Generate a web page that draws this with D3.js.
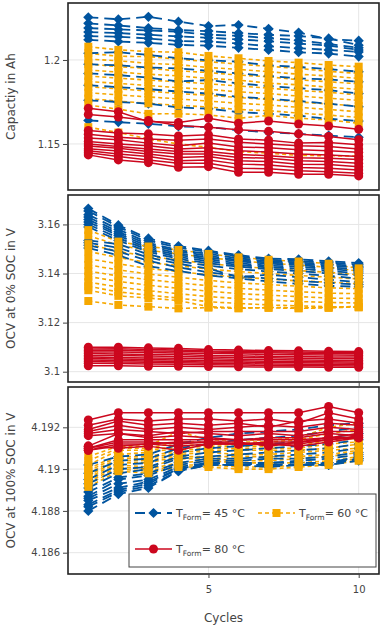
<!DOCTYPE html>
<html>
<head>
<meta charset="utf-8">
<script src="https://cdn.jsdelivr.net/npm/d3@7"></script>
<style>
  body { margin: 0; background: #fff; }
  text { font-family: "DejaVu Sans", Verdana, sans-serif; fill: #444; }
</style>
</head>
<body>
<div class="d3_canvas"></div>
<script>
var width = 383, height = 628;

var cycles = [1, 2, 3, 4, 5, 6, 7, 8, 9, 10];

// capacity in Ah, one row per cell
var capacity45 = [
  [1.2254, 1.2242, 1.2257, 1.2228, 1.2202, 1.2208, 1.2185, 1.2163, 1.2123, 1.2115],
  [1.2218, 1.2205, 1.2190, 1.2178, 1.2172, 1.2160, 1.2150, 1.2142, 1.2128, 1.2088],
  [1.2190, 1.2182, 1.2176, 1.2168, 1.2150, 1.2144, 1.2130, 1.2118, 1.2095, 1.2072],
  [1.2166, 1.2160, 1.2150, 1.2140, 1.2132, 1.2122, 1.2112, 1.2098, 1.2085, 1.2060],
  [1.2142, 1.2138, 1.2128, 1.2112, 1.2110, 1.2098, 1.2082, 1.2070, 1.2060, 1.2048],
  [1.2120, 1.2110, 1.2102, 1.2090, 1.2085, 1.2072, 1.2060, 1.2046, 1.2038, 1.2020],
  [1.2040, 1.2046, 1.2030, 1.2010, 1.1998, 1.1990, 1.1968, 1.1958, 1.1946, 1.1930],
  [1.1975, 1.1968, 1.1955, 1.1950, 1.1935, 1.1920, 1.1905, 1.1890, 1.1885, 1.1870],
  [1.1920, 1.1910, 1.1895, 1.1872, 1.1880, 1.1860, 1.1845, 1.1832, 1.1820, 1.1800],
  [1.1850, 1.1838, 1.1826, 1.1812, 1.1800, 1.1780, 1.1770, 1.1755, 1.1740, 1.1722],
  [1.1760, 1.1750, 1.1740, 1.1718, 1.1710, 1.1690, 1.1680, 1.1668, 1.1650, 1.1636],
  [1.1640, 1.1630, 1.1620, 1.1605, 1.1600, 1.1582, 1.1570, 1.1560, 1.1550, 1.1540]
];
var capacity60 = [
  [1.2079, 1.2060, 1.2050, 1.2046, 1.2024, 1.2010, 1.1994, 1.1984, 1.1970, 1.1960],
  [1.2040, 1.2022, 1.2020, 1.2005, 1.1990, 1.1975, 1.1962, 1.1950, 1.1932, 1.1920],
  [1.2005, 1.1995, 1.1980, 1.1972, 1.1955, 1.1944, 1.1930, 1.1915, 1.1905, 1.1890],
  [1.1975, 1.1960, 1.1950, 1.1935, 1.1925, 1.1910, 1.1900, 1.1882, 1.1870, 1.1858],
  [1.1940, 1.1928, 1.1915, 1.1905, 1.1890, 1.1880, 1.1862, 1.1852, 1.1838, 1.1825],
  [1.1905, 1.1892, 1.1880, 1.1870, 1.1858, 1.1845, 1.1832, 1.1818, 1.1808, 1.1792],
  [1.1872, 1.1860, 1.1848, 1.1835, 1.1825, 1.1810, 1.1800, 1.1785, 1.1772, 1.1760],
  [1.1840, 1.1828, 1.1815, 1.1800, 1.1790, 1.1776, 1.1765, 1.1750, 1.1738, 1.1725],
  [1.1805, 1.1792, 1.1780, 1.1768, 1.1755, 1.1742, 1.1732, 1.1718, 1.1705, 1.1692],
  [1.1770, 1.1755, 1.1742, 1.1730, 1.1720, 1.1705, 1.1698, 1.1684, 1.1672, 1.1658],
  [1.1732, 1.1707, 1.1679, 1.1680, 1.1673, 1.1653, 1.1670, 1.1653, 1.1643, 1.1623],
  [1.1600, 1.1568, 1.1530, 1.1500, 1.1480, 1.1455, 1.1445, 1.1432, 1.1430, 1.1428]
];
var capacity80 = [
  [1.1712, 1.1692, 1.1633, 1.1628, 1.1653, 1.1623, 1.1637, 1.1619, 1.1607, 1.1587],
  [1.1675, 1.1660, 1.1640, 1.1610, 1.1600, 1.1585, 1.1575, 1.1560, 1.1545, 1.1525],
  [1.1580, 1.1565, 1.1560, 1.1548, 1.1555, 1.1530, 1.1522, 1.1505, 1.1508, 1.1495],
  [1.1558, 1.1540, 1.1530, 1.1522, 1.1530, 1.1510, 1.1500, 1.1490, 1.1485, 1.1470],
  [1.1535, 1.1525, 1.1505, 1.1490, 1.1505, 1.1482, 1.1478, 1.1465, 1.1460, 1.1450],
  [1.1515, 1.1500, 1.1490, 1.1470, 1.1478, 1.1460, 1.1452, 1.1440, 1.1435, 1.1425],
  [1.1500, 1.1485, 1.1470, 1.1455, 1.1455, 1.1438, 1.1430, 1.1418, 1.1415, 1.1408],
  [1.1488, 1.1475, 1.1455, 1.1440, 1.1440, 1.1420, 1.1415, 1.1400, 1.1395, 1.1385],
  [1.1472, 1.1458, 1.1440, 1.1420, 1.1425, 1.1400, 1.1395, 1.1380, 1.1378, 1.1365],
  [1.1460, 1.1440, 1.1425, 1.1400, 1.1405, 1.1380, 1.1375, 1.1360, 1.1355, 1.1345],
  [1.1448, 1.1425, 1.1405, 1.1385, 1.1385, 1.1355, 1.1352, 1.1340, 1.1335, 1.1325],
  [1.1435, 1.1405, 1.1389, 1.1361, 1.1365, 1.1331, 1.1331, 1.1320, 1.1320, 1.1310]
];

// OCV at 0% SOC in V
var ocv0_45 = [
  [3.1665, 3.1597, 3.1543, 3.1512, 3.1493, 3.1475, 3.1461, 3.1458, 3.1450, 3.1443],
  [3.1655, 3.1590, 3.1535, 3.1505, 3.1488, 3.1470, 3.1456, 3.1450, 3.1445, 3.1436],
  [3.1640, 3.1580, 3.1525, 3.1495, 3.1480, 3.1462, 3.1450, 3.1445, 3.1438, 3.1430],
  [3.1630, 3.1570, 3.1518, 3.1490, 3.1472, 3.1455, 3.1445, 3.1440, 3.1432, 3.1425],
  [3.1620, 3.1562, 3.1510, 3.1482, 3.1465, 3.1450, 3.1440, 3.1435, 3.1425, 3.1418],
  [3.1610, 3.1555, 3.1502, 3.1475, 3.1458, 3.1442, 3.1432, 3.1428, 3.1418, 3.1410],
  [3.1600, 3.1545, 3.1495, 3.1468, 3.1450, 3.1435, 3.1425, 3.1420, 3.1410, 3.1402],
  [3.1590, 3.1535, 3.1488, 3.1460, 3.1442, 3.1428, 3.1418, 3.1410, 3.1400, 3.1392],
  [3.1535, 3.1520, 3.1478, 3.1450, 3.1432, 3.1418, 3.1408, 3.1400, 3.1390, 3.1380],
  [3.1525, 3.1505, 3.1465, 3.1440, 3.1420, 3.1385, 3.1395, 3.1385, 3.1375, 3.1365],
  [3.1515, 3.1490, 3.1452, 3.1425, 3.1405, 3.1390, 3.1380, 3.1370, 3.1362, 3.1355],
  [3.1504, 3.1475, 3.1430, 3.1410, 3.1392, 3.1380, 3.1368, 3.1358, 3.1350, 3.1346]
];
var ocv0_60 = [
  [3.1577, 3.1530, 3.1510, 3.1496, 3.1480, 3.1466, 3.1456, 3.1449, 3.1440, 3.1421],
  [3.1555, 3.1515, 3.1495, 3.1480, 3.1465, 3.1452, 3.1442, 3.1435, 3.1425, 3.1410],
  [3.1520, 3.1490, 3.1470, 3.1455, 3.1440, 3.1430, 3.1420, 3.1412, 3.1405, 3.1395],
  [3.1490, 3.1465, 3.1445, 3.1432, 3.1418, 3.1408, 3.1400, 3.1392, 3.1385, 3.1378],
  [3.1460, 3.1440, 3.1420, 3.1408, 3.1395, 3.1385, 3.1378, 3.1370, 3.1365, 3.1358],
  [3.1435, 3.1415, 3.1398, 3.1385, 3.1372, 3.1362, 3.1355, 3.1348, 3.1342, 3.1338],
  [3.1410, 3.1390, 3.1375, 3.1362, 3.1350, 3.1340, 3.1332, 3.1326, 3.1320, 3.1318],
  [3.1388, 3.1368, 3.1352, 3.1340, 3.1328, 3.1318, 3.1312, 3.1306, 3.1300, 3.1298],
  [3.1365, 3.1345, 3.1330, 3.1318, 3.1306, 3.1298, 3.1292, 3.1286, 3.1282, 3.1280],
  [3.1348, 3.1325, 3.1312, 3.1300, 3.1285, 3.1278, 3.1272, 3.1268, 3.1265, 3.1262],
  [3.1332, 3.1309, 3.1300, 3.1290, 3.1265, 3.1260, 3.1260, 3.1258, 3.1260, 3.1264],
  [3.1288, 3.1272, 3.1265, 3.1258, 3.1261, 3.1258, 3.1262, 3.1260, 3.1262, 3.1266]
];
var ocv0_80 = [
  [3.1100, 3.1100, 3.1097, 3.1095, 3.1090, 3.1088, 3.1086, 3.1085, 3.1083, 3.1082],
  [3.1092, 3.1093, 3.1090, 3.1088, 3.1084, 3.1083, 3.1081, 3.1080, 3.1078, 3.1077],
  [3.1086, 3.1087, 3.1084, 3.1083, 3.1080, 3.1078, 3.1077, 3.1075, 3.1074, 3.1073],
  [3.1080, 3.1080, 3.1078, 3.1076, 3.1074, 3.1073, 3.1070, 3.1069, 3.1068, 3.1067],
  [3.1074, 3.1072, 3.1070, 3.1070, 3.1066, 3.1065, 3.1062, 3.1062, 3.1060, 3.1060],
  [3.1066, 3.1066, 3.1064, 3.1062, 3.1060, 3.1058, 3.1057, 3.1055, 3.1054, 3.1053],
  [3.1060, 3.1058, 3.1056, 3.1055, 3.1053, 3.1051, 3.1050, 3.1048, 3.1047, 3.1046],
  [3.1054, 3.1052, 3.1050, 3.1048, 3.1046, 3.1045, 3.1043, 3.1042, 3.1041, 3.1040],
  [3.1048, 3.1046, 3.1044, 3.1042, 3.1040, 3.1039, 3.1037, 3.1036, 3.1035, 3.1034],
  [3.1042, 3.1040, 3.1038, 3.1036, 3.1034, 3.1033, 3.1031, 3.1030, 3.1029, 3.1028],
  [3.1034, 3.1033, 3.1031, 3.1030, 3.1028, 3.1027, 3.1025, 3.1024, 3.1024, 3.1023],
  [3.1024, 3.1024, 3.1022, 3.1022, 3.1021, 3.1020, 3.1019, 3.1019, 3.1018, 3.1018]
];

// OCV at 100% SOC in V
var ocv100_45 = [
  [4.1902, 4.1906, 4.1907, 4.1912, 4.1915, 4.1917, 4.1918, 4.1919, 4.1921, 4.1922],
  [4.1898, 4.1904, 4.1905, 4.1910, 4.1912, 4.1914, 4.1915, 4.1916, 4.1918, 4.1920],
  [4.1895, 4.1902, 4.1903, 4.1908, 4.1910, 4.1911, 4.1912, 4.1913, 4.1915, 4.1917],
  [4.1893, 4.1900, 4.1901, 4.1906, 4.1908, 4.1909, 4.1910, 4.1911, 4.1912, 4.1914],
  [4.1891, 4.1898, 4.1900, 4.1905, 4.1906, 4.1907, 4.1908, 4.1909, 4.1910, 4.1912],
  [4.1889, 4.1896, 4.1898, 4.1903, 4.1905, 4.1905, 4.1906, 4.1907, 4.1908, 4.1910],
  [4.1887, 4.1895, 4.1897, 4.1902, 4.1904, 4.1904, 4.1905, 4.1905, 4.1906, 4.1908],
  [4.1886, 4.1893, 4.1895, 4.1901, 4.1903, 4.1903, 4.1903, 4.1904, 4.1905, 4.1907],
  [4.1885, 4.1891, 4.1894, 4.1900, 4.1903, 4.1902, 4.1903, 4.1903, 4.1903, 4.1906],
  [4.1883, 4.1890, 4.1893, 4.1900, 4.1902, 4.1902, 4.1902, 4.1902, 4.1903, 4.1905],
  [4.1882, 4.1889, 4.1892, 4.1899, 4.1902, 4.1902, 4.1902, 4.1902, 4.1902, 4.1905],
  [4.1880, 4.1888, 4.1891, 4.1899, 4.1902, 4.1902, 4.1901, 4.1902, 4.1902, 4.1904]
];
var ocv100_60 = [
  [4.1906, 4.1911, 4.1911, 4.1918, 4.1914, 4.1914, 4.1914, 4.1915, 4.1920, 4.1922],
  [4.1904, 4.1910, 4.1910, 4.1913, 4.1913, 4.1913, 4.1913, 4.1914, 4.1917, 4.1919],
  [4.1902, 4.1909, 4.1909, 4.1911, 4.1912, 4.1912, 4.1912, 4.1913, 4.1915, 4.1917],
  [4.1900, 4.1907, 4.1908, 4.1910, 4.1911, 4.1911, 4.1911, 4.1912, 4.1913, 4.1915],
  [4.1899, 4.1906, 4.1906, 4.1909, 4.1910, 4.1910, 4.1910, 4.1910, 4.1912, 4.1913],
  [4.1898, 4.1905, 4.1905, 4.1908, 4.1909, 4.1909, 4.1909, 4.1909, 4.1910, 4.1912],
  [4.1897, 4.1904, 4.1904, 4.1907, 4.1908, 4.1907, 4.1907, 4.1908, 4.1909, 4.1910],
  [4.1896, 4.1903, 4.1903, 4.1906, 4.1906, 4.1906, 4.1906, 4.1906, 4.1907, 4.1909],
  [4.1895, 4.1902, 4.1901, 4.1905, 4.1905, 4.1904, 4.1904, 4.1905, 4.1906, 4.1908],
  [4.1894, 4.1901, 4.1900, 4.1903, 4.1904, 4.1903, 4.1903, 4.1903, 4.1904, 4.1906],
  [4.1893, 4.1900, 4.1899, 4.1902, 4.1902, 4.1901, 4.1901, 4.1902, 4.1903, 4.1905],
  [4.18915, 4.1899, 4.1898, 4.1901, 4.1901, 4.1900, 4.1900, 4.1901, 4.1902, 4.1904]
];
var ocv100_80 = [
  [4.19235, 4.1927, 4.1927, 4.1927, 4.1927, 4.1927, 4.1927, 4.1927, 4.1930, 4.1927],
  [4.1921, 4.1924, 4.1923, 4.1924, 4.1924, 4.1923, 4.1924, 4.1922, 4.1927, 4.1924],
  [4.1919, 4.1923, 4.1921, 4.1922, 4.1921, 4.1922, 4.1920, 4.1923, 4.1924, 4.1922],
  [4.1918, 4.1921, 4.1919, 4.1920, 4.1919, 4.1920, 4.1921, 4.1920, 4.1922, 4.1921],
  [4.1917, 4.1919, 4.1918, 4.1917, 4.1918, 4.1918, 4.1918, 4.1918, 4.1920, 4.1919],
  [4.1916, 4.1917, 4.1916, 4.1918, 4.1917, 4.1916, 4.1917, 4.1916, 4.1918, 4.1918],
  [4.1911, 4.1917, 4.1915, 4.1916, 4.1915, 4.1914, 4.1915, 4.1915, 4.1917, 4.1916],
  [4.1910, 4.1914, 4.1914, 4.1914, 4.1914, 4.1914, 4.1914, 4.1914, 4.1915, 4.1915],
  [4.1909, 4.1912, 4.1912, 4.1913, 4.1913, 4.1912, 4.1913, 4.1913, 4.1914, 4.1916],
  [4.1909, 4.1911, 4.1912, 4.1911, 4.1912, 4.1912, 4.1912, 4.1912, 4.1914, 4.1915],
  [4.1910, 4.1913, 4.1913, 4.1912, 4.1913, 4.1913, 4.1911, 4.1913, 4.1915, 4.1917],
  [4.1911, 4.1910, 4.1911, 4.1909, 4.1912, 4.1912, 4.1912, 4.1911, 4.1913, 4.1915]
];

var xTicks = [5, 10];
var capTicks = [1.15, 1.2], capTickLabels = ["1.15", "1.2"];
var ocv0Ticks = [3.1, 3.12, 3.14, 3.16], ocv0TickLabels = ["3.1", "3.12", "3.14", "3.16"];
var ocv100Ticks = [4.186, 4.188, 4.19, 4.192], ocv100TickLabels = ["4.186", "4.188", "4.19", "4.192"];
var legendLabels = ["45 °C", "60 °C", "80 °C"];

var blue = "#00549F", orange = "#F6A800", red = "#CC071E";

// drawing styles per formation temperature
var groups = [
  {name: "45", color: blue, dash: "10,6", width: 1.8, shape: "diamond"},
  {name: "60", color: orange, dash: "4,3", width: 1.6, shape: "square"},
  {name: "80", color: red, dash: null, width: 1.5, shape: "circle"}
];

// lines: orange under blue; markers: blue under orange; red always on top
var lineOrder = [1, 0, 2], markerOrder = [0, 1, 2];

var left = 68, right = 379;

var panels = [
  {top: 3, bottom: 190, domain: [1.1226, 1.2339], ticks: capTicks, labels: capTickLabels,
   title: "Capactiy in Ah", series: [capacity45, capacity60, capacity80]},
  {top: 195, bottom: 382, domain: [3.0958, 3.1720], ticks: ocv0Ticks, labels: ocv0TickLabels,
   title: "OCV at 0% SOC in V", series: [ocv0_45, ocv0_60, ocv0_80]},
  {top: 387, bottom: 574, domain: [4.18498, 4.19393], ticks: ocv100Ticks, labels: ocv100TickLabels,
   title: "OCV at 100% SOC in V", series: [ocv100_45, ocv100_60, ocv100_80]}
];

var svg = d3.select(".d3_canvas")
  .append("svg")
    .attr("width", width)
    .attr("height", height);

var x = d3.scaleLinear().domain([0.324, 10.676]).range([left, right]);

function markerPath(shape) {
  if (shape == "diamond") return d3.symbol(d3.symbolSquare, 52)();
  if (shape == "square") return d3.symbol(d3.symbolSquare, 64)();
  return d3.symbol(d3.symbolCircle, 64)();
}

function drawMarker(g, shape, color, px, py) {
  g.append("path")
    .attr("d", markerPath(shape))
    .attr("transform", "translate(" + px + "," + py + ")" + (shape == "diamond" ? " rotate(45)" : ""))
    .style("fill", color);
}

panels.forEach(function(p, pi) {
  var y = d3.scaleLinear().domain(p.domain).range([p.bottom, p.top]);
  var g = svg.append("g");

  // grid
  g.selectAll(".vgrid").data(xTicks).enter().append("line")
    .attr("x1", function(d) { return x(d); }).attr("x2", function(d) { return x(d); })
    .attr("y1", p.top).attr("y2", p.bottom)
    .style("stroke", "#e6e6e6").style("stroke-width", 1);
  g.selectAll(".hgrid").data(p.ticks).enter().append("line")
    .attr("x1", left).attr("x2", right)
    .attr("y1", function(d) { return y(d); }).attr("y2", function(d) { return y(d); })
    .style("stroke", "#e6e6e6").style("stroke-width", 1);

  var line = d3.line()
    .x(function(d, i) { return x(cycles[i]); })
    .y(function(d) { return y(d); });

  function drawLines(gi) {
    var grp = groups[gi];
    p.series[gi].forEach(function(vals) {
      g.append("path")
        .attr("d", line(vals))
        .style("fill", "none")
        .style("stroke", grp.color)
        .style("stroke-width", grp.width)
        .style("stroke-dasharray", grp.dash);
    });
  }
  function drawMarkers(gi) {
    var grp = groups[gi];
    p.series[gi].forEach(function(vals) {
      vals.forEach(function(v, i) {
        drawMarker(g, grp.shape, grp.color, x(cycles[i]), y(v));
      });
    });
  }

  drawLines(1); drawLines(0);
  drawMarkers(0); drawMarkers(1);
  drawLines(2); drawMarkers(2);

  // frame
  g.append("rect")
    .attr("x", left).attr("y", p.top)
    .attr("width", right - left).attr("height", p.bottom - p.top)
    .style("fill", "none").style("stroke", "#222").style("stroke-width", 1.6);

  // y axis ticks + labels
  var yAxis = d3.axisLeft(y).tickValues(p.ticks).tickSize(5).tickPadding(3)
    .tickFormat(function(d, i) { return p.labels[i]; });
  var ya = g.append("g").attr("transform", "translate(" + left + ",0)").call(yAxis);
  ya.select(".domain").remove();
  ya.selectAll("line").style("stroke", "#444");
  ya.selectAll("text").style("font-size", "10px").style("fill", "#444")
    .style("font-family", "DejaVu Sans, sans-serif");

  // x axis ticks (labels only on bottom panel)
  var xAxis = d3.axisBottom(x).tickValues(xTicks).tickSize(4).tickPadding(8)
    .tickFormat(pi == 2 ? d3.format("d") : "");
  var xa = g.append("g").attr("transform", "translate(0," + p.bottom + ")").call(xAxis);
  xa.select(".domain").remove();
  xa.selectAll("line").style("stroke", "#444");
  xa.selectAll("text").style("font-size", "10px").style("fill", "#444")
    .style("font-family", "DejaVu Sans, sans-serif");

  // axis title
  g.append("text")
    .attr("transform", "translate(15," + ((p.top + p.bottom) / 2) + ") rotate(-90)")
    .attr("text-anchor", "middle")
    .style("font-size", "12px")
    .text(p.title);
});

svg.append("text")
  .attr("x", (left + right) / 2).attr("y", 622)
  .attr("text-anchor", "middle")
  .style("font-size", "12px")
  .text("Cycles");

// legend
var legend = svg.append("g");
legend.append("rect")
  .attr("x", 129).attr("y", 494).attr("width", 247).attr("height", 73)
  .style("fill", "#fff").style("stroke", "#444").style("stroke-width", 1);

var legendPos = [[135, 513], [258, 513], [135, 549]];
groups.forEach(function(grp, i) {
  var lx = legendPos[i][0], ly = legendPos[i][1];
  legend.append("line")
    .attr("x1", lx).attr("x2", lx + 37).attr("y1", ly).attr("y2", ly)
    .style("stroke", grp.color).style("stroke-width", grp.width)
    .style("stroke-dasharray", grp.dash);
  drawMarker(legend, grp.shape, grp.color, lx + 18.5, ly);
  var t = legend.append("text")
    .attr("x", lx + 41).attr("y", ly + 4)
    .style("font-size", "11px");
  t.append("tspan").text("T");
  t.append("tspan").attr("dy", 3).style("font-size", "7.5px").text("Form");
  t.append("tspan").attr("dy", -3).text("= " + legendLabels[i]);
});
</script>
</body>
</html>
